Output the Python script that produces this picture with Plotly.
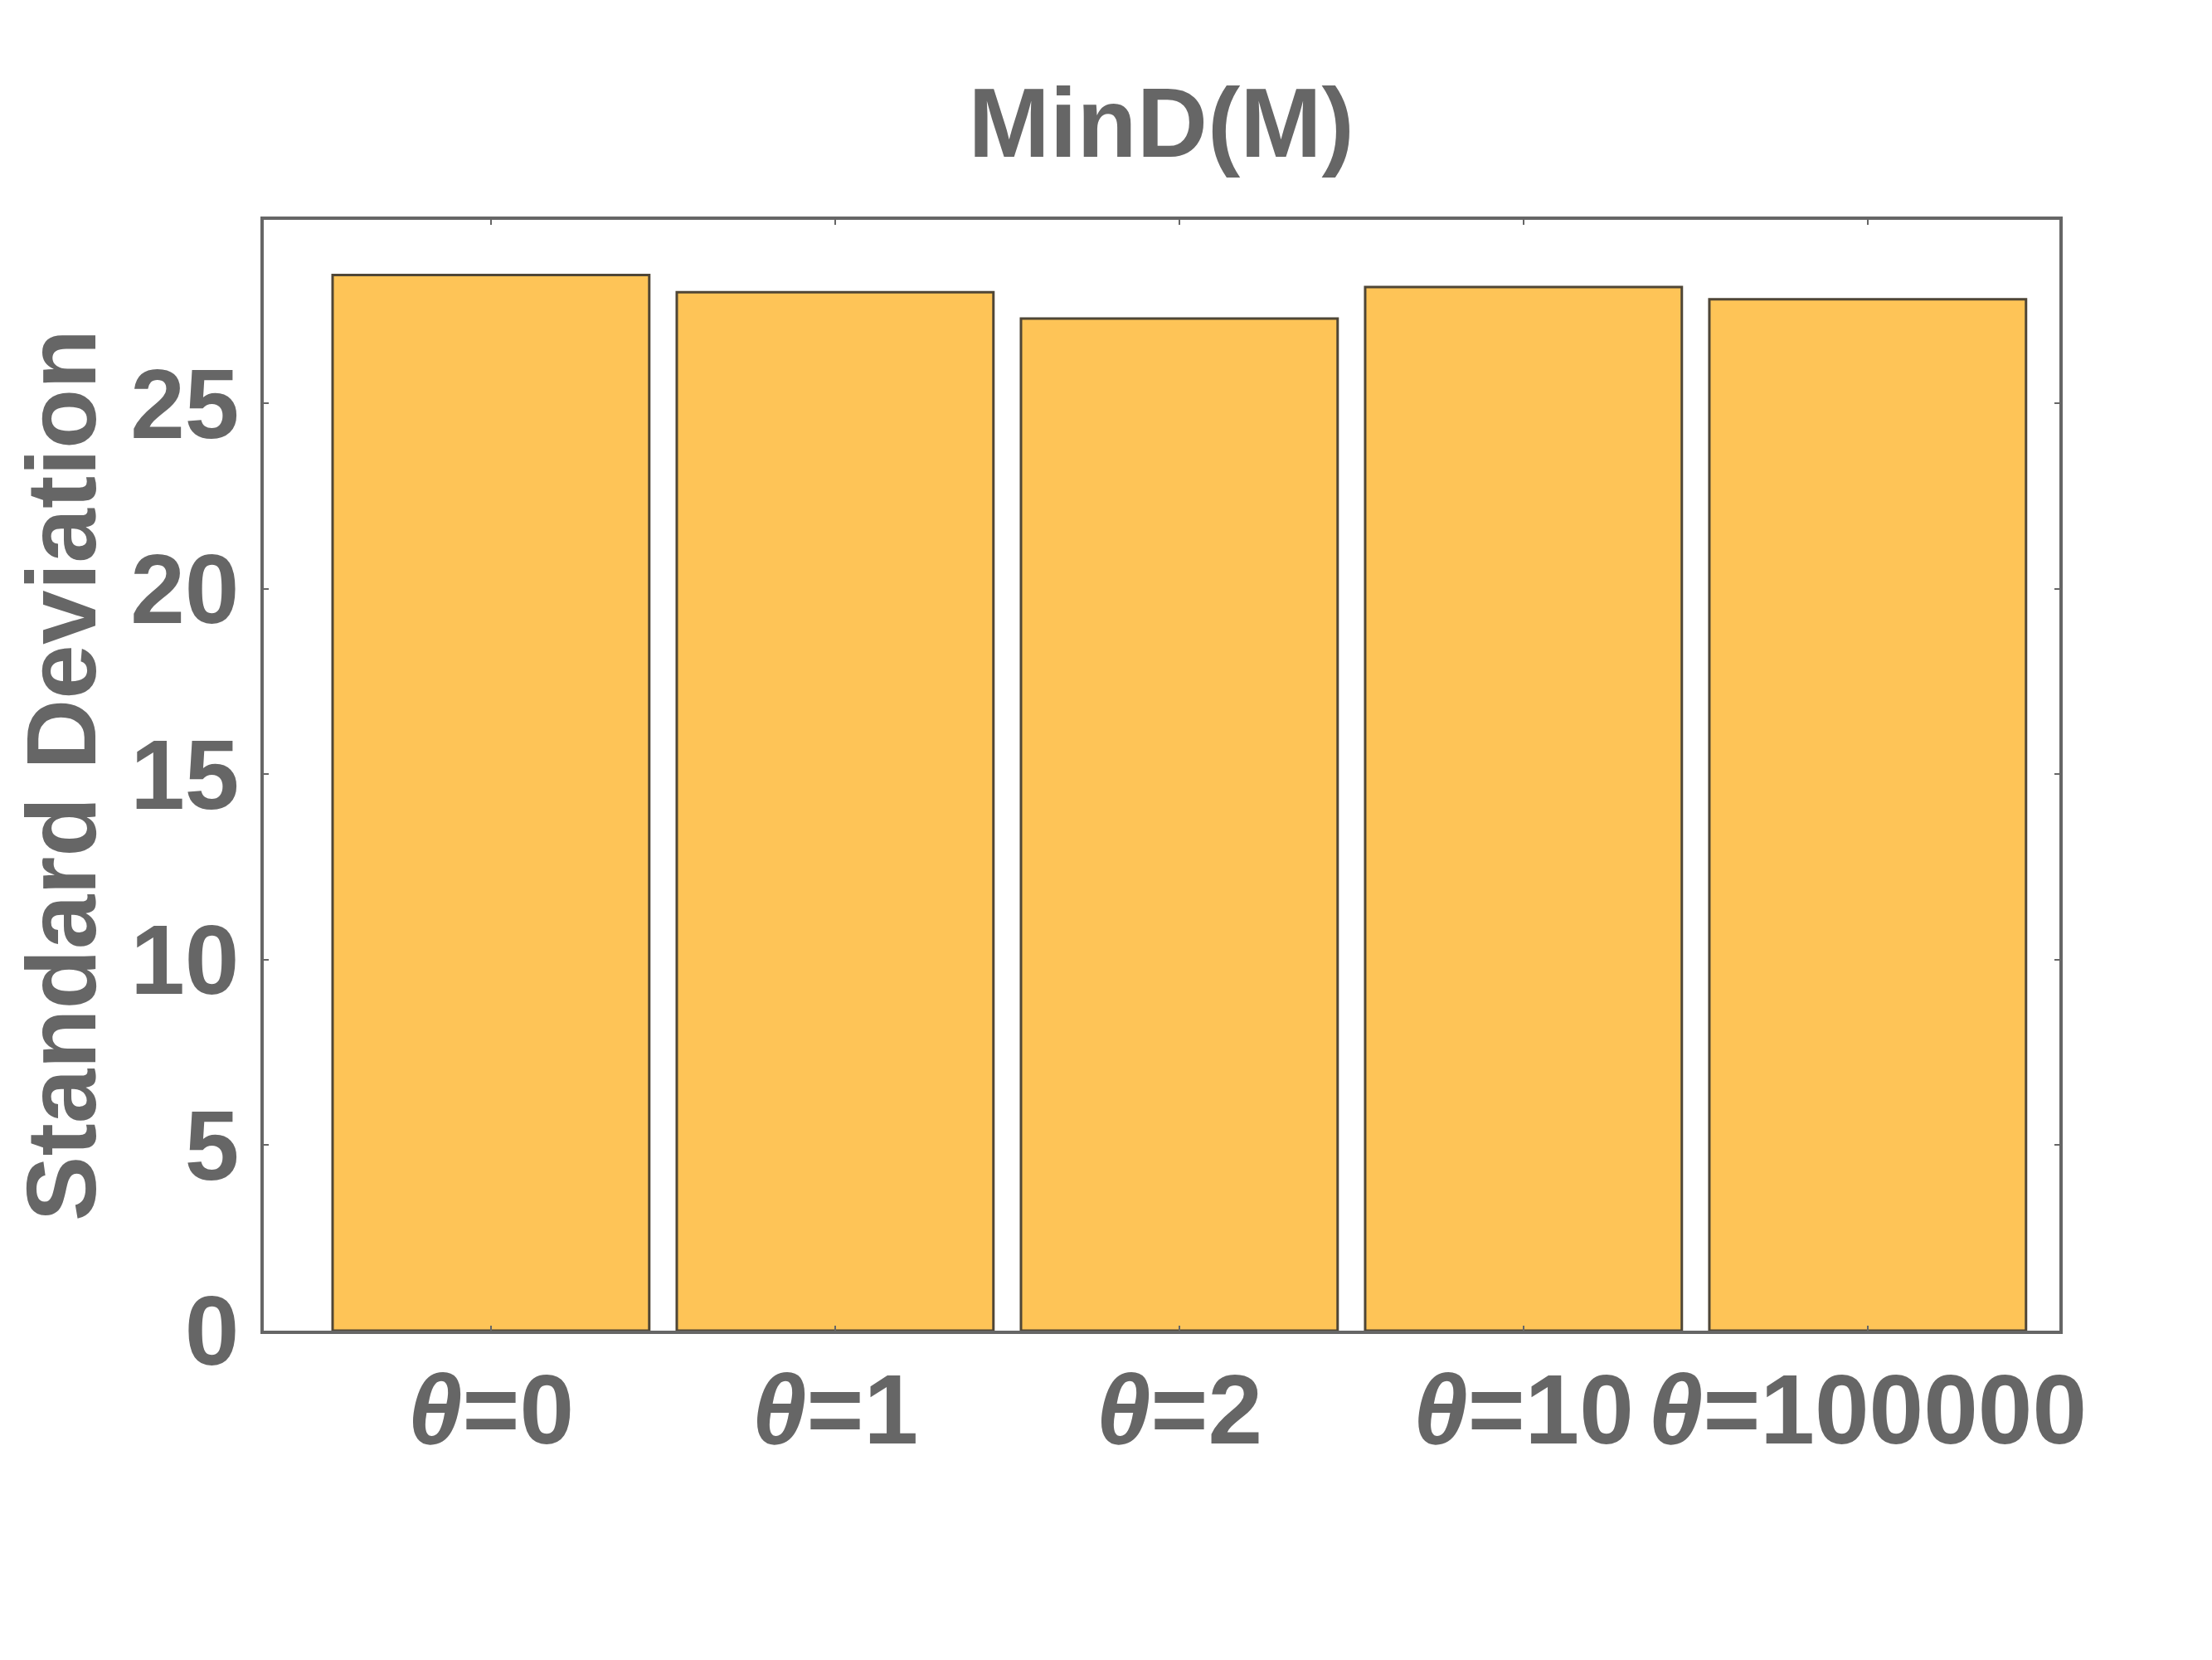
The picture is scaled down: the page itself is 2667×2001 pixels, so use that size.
import plotly.graph_objects as go

# values
categories = ["θ=0", "θ=1", "θ=2", "θ=10", "θ=100000"]
std_dev = [28.46, 28.0, 27.29, 28.14, 27.81]
y_ticks = [0, 5, 10, 15, 20, 25]

grey = "#666666"
font_family = "Liberation Sans, Arial, sans-serif"

# θ in italic, the rest upright
tick_text = ["<i>θ</i>" + c[1:] for c in categories]
xpos = list(range(len(categories)))

fig = go.Figure()
fig.add_trace(go.Bar(
    x=xpos, y=std_dev,
    width=0.92,
    marker=dict(color="#FEC457", line=dict(color="#4f4636", width=3)),
    showlegend=False,
))

fig.update_layout(
    width=2667, height=2001,
    margin=dict(l=310, r=192, t=257, b=405),
    paper_bgcolor="white", plot_bgcolor="white",
    font=dict(family=font_family, color=grey, weight="bold"),
    title=dict(text="MinD(M)", x=0.522, xanchor="center", y=0.93, yanchor="middle",
               yref="container", font=dict(size=118, color=grey, weight="bold")),
)

fig.update_xaxes(
    range=[-0.66, 4.557],
    tickmode="array", tickvals=xpos, ticktext=tick_text,
    tickfont=dict(size=118, color=grey, weight="bold"),
    ticks="inside", ticklen=6, tickwidth=2, tickcolor=grey,
    showline=True, linecolor=grey, linewidth=4, mirror="ticks",
    showgrid=False, zeroline=False,
    ticklabelstandoff=-10,
)
fig.update_yaxes(
    range=[0, 29.95],
    tickmode="array", tickvals=y_ticks,
    tickfont=dict(size=118, color=grey, weight="bold"),
    ticks="inside", ticklen=6, tickwidth=2, tickcolor=grey,
    showline=True, linecolor=grey, linewidth=4, mirror="ticks",
    showgrid=False, zeroline=False,
    ticklabelstandoff=2,
    title=dict(text="Standard Deviation", standoff=44,
               font=dict(size=118, color=grey, weight="bold")),
)

fig.write_html("out.html")
